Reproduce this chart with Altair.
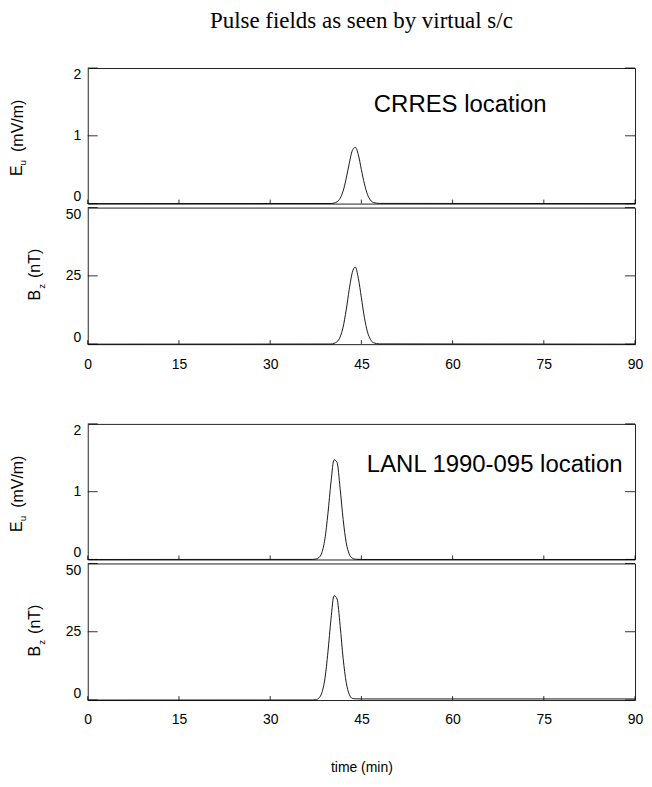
import altair as alt
import pandas as pd

# ---- data ----
t_crres = [0, 40, 41, 41.5, 42, 42.5, 43, 43.5, 44, 44.5, 45, 45.5, 46, 46.5, 47, 48, 90]
e_crres = [0, 0.0016, 0.026, 0.077, 0.187, 0.37, 0.59, 0.78, 0.83, 0.72, 0.50, 0.29, 0.135, 0.05, 0.016, 0.003, 0]
b_crres = [0, 0.05, 0.9, 2.6, 6.3, 12.5, 20.0, 26.2, 28.2, 24.1, 17.0, 9.7, 4.5, 1.7, 0.5, 0.1, 0]

t_lanl = [0, 37, 37.5, 38, 38.5, 39, 39.5, 40, 40.5, 41, 41.5, 42, 42.5, 43, 43.5, 44, 45, 90]
e_lanl = [0, 0.001, 0.005, 0.027, 0.10, 0.30, 0.68, 1.14, 1.47, 1.43, 1.05, 0.59, 0.25, 0.08, 0.02, 0.004, 0, 0]
b_lanl = [0, 0.02, 0.13, 0.7, 2.65, 7.8, 17.6, 29.6, 38.2, 37.0, 27.3, 15.2, 6.5, 2.1, 0.6, 0.45, 0.4, 0.4]

x_ticks = [0, 15, 30, 45, 60, 75, 90]
e_ticks = [0, 1, 2]
b_ticks = [0, 25, 50]

main_title = "Pulse fields as seen by virtual s/c"
locations = ["CRRES location", "LANL 1990-095 location"]
x_title = "time (min)"
e_title = ["E", "u", "(mV/m)"]
b_title = ["B", "z", "(nT)"]

W = 549
HE = 136
HB = 137
FONT = "Liberation Sans"


def txt(s, px, py, size, angle=0, font=FONT, align="center"):
    return alt.Chart(pd.DataFrame({"s": [s]})).mark_text(
        angle=angle, fontSize=size, font=font, align=align,
        baseline="middle", color="black"
    ).encode(x=alt.value(px), y=alt.value(py), text="s:N")


def panel(t, v, dom, ticks, h, xaxis, extra):
    xs = alt.Scale(domain=[0, 90], nice=False, zero=False)
    ys = alt.Scale(domain=dom, nice=False)
    yax = alt.Axis(values=ticks, format=".0f", ticks=False, domain=False, grid=False,
                   labelFlush=True, labelOverlap=False, labelPadding=7, labelFontSize=14,
                   labelFont=FONT, labelColor="black", title=None)
    df = pd.DataFrame({"t": t, "val": v})
    line = alt.Chart(df).mark_line(color="black", strokeWidth=0.9,
                                   interpolate="monotone").encode(
        x=alt.X("t:Q", scale=xs, axis=xaxis),
        y=alt.Y("val:Q", scale=ys, axis=yax),
    )
    tdf = pd.DataFrame({"val": ticks})
    left = alt.Chart(tdf).mark_rule(color="black", strokeWidth=0.8).encode(
        y=alt.Y("val:Q", scale=ys, axis=yax), x=alt.value(0), x2=alt.value(10))
    right = alt.Chart(tdf).mark_rule(color="black", strokeWidth=0.8).encode(
        y=alt.Y("val:Q", scale=ys, axis=yax), x=alt.value(W - 10), x2=alt.value(W))
    xdf = pd.DataFrame({"t": x_ticks})
    bot = alt.Chart(xdf).mark_rule(color="black", strokeWidth=0.8).encode(
        x=alt.X("t:Q", scale=xs, axis=xaxis), y=alt.value(h), y2=alt.value(h - 4))
    return alt.layer(line, left, right, bot, *extra).properties(width=W, height=h)


def xaxis_def(title=None, tpad=0):
    kw = dict(values=x_ticks, format=".0f", ticks=False, domain=False, grid=False,
              labelFlush=False, labelOverlap=False, labelPadding=13, labelFontSize=14,
              labelFont=FONT, labelColor="black")
    if title:
        kw.update(title=title, titleFont=FONT, titleFontSize=14,
                  titleFontWeight="normal", titleColor="black", titlePadding=tpad)
    else:
        kw.update(title=None)
    return alt.Axis(**kw)


def e_titles():
    return [txt(e_title[0], -71, 103, 16, 270),
            txt(e_title[1], -65, 95, 10, 270),
            txt(e_title[2], -70, 58, 16, 270)]


def b_titles():
    return [txt(b_title[0], -53, 88, 16, 270),
            txt(b_title[1], -46, 79, 10, 270),
            txt(b_title[2], -53, 56, 16, 270)]


e1 = panel(t_crres, e_crres, [0, 2], e_ticks, HE, None,
           e_titles() + [txt(locations[0], 287, 37, 24, align="left"),
                         txt(main_title, W / 2, -47, 23, font="Liberation Serif")])
b1 = panel(t_crres, b_crres, [0, 50], b_ticks, HB, xaxis_def(), b_titles())
e2 = panel(t_lanl, e_lanl, [0, 2], e_ticks, HE, None,
           e_titles() + [txt(locations[1], 280, 41, 24, align="left")])
b2 = panel(t_lanl, b_lanl, [0, 50], b_ticks, HB, xaxis_def(x_title, 34), b_titles())

g1 = alt.vconcat(e1, b1, spacing=0)
g2 = alt.vconcat(e2, b2, spacing=0)

chart = alt.vconcat(g1, g2, spacing=51).configure_view(
    stroke="#222", strokeWidth=1
).properties(padding={"left": 0, "top": 0, "right": 0, "bottom": 0})

chart.save("out.html", embed_options={"renderer": "svg", "actions": False})
